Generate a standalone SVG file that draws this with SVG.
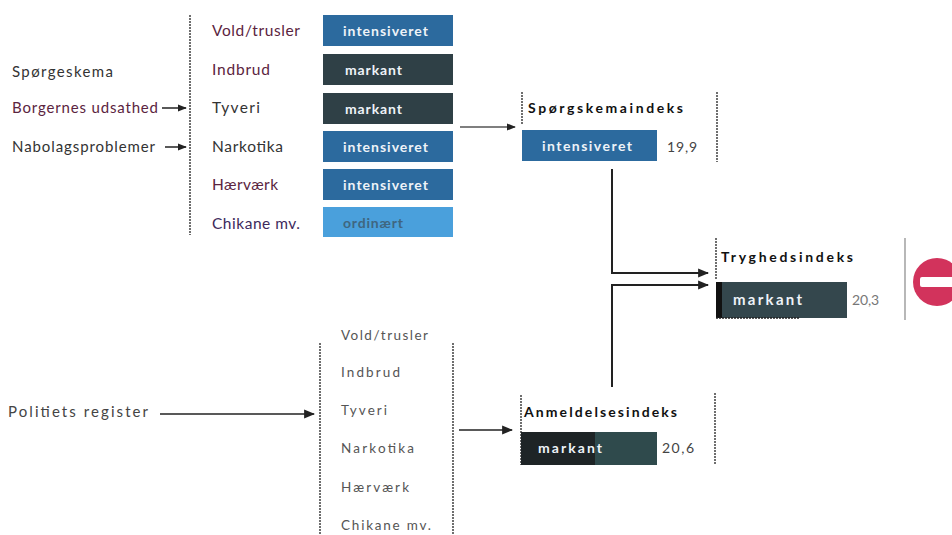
<svg xmlns="http://www.w3.org/2000/svg" width="952" height="535" viewBox="0 0 952 535">
<defs>
<marker id="ah" viewBox="0 0 10 10" refX="9" refY="5" markerWidth="9" markerHeight="9" orient="auto" markerUnits="userSpaceOnUse">
<path d="M0,1 L10,5 L0,9 z" fill="#222"/>
</marker>
<marker id="ahb" viewBox="0 0 10 10" refX="9" refY="5" markerWidth="11" markerHeight="11" orient="auto" markerUnits="userSpaceOnUse">
<path d="M0,1 L10,5 L0,9 z" fill="#222"/>
</marker>
</defs>
<style>
text{font-family:Lato,"Liberation Sans",sans-serif;}
.src{font-size:15px;fill:#333;}
.cat{font-size:15.5px;}
.m{fill:#5b2440;}
.d{fill:#333;}
.p{fill:#3d2a5c;}
.lc{font-size:13.5px;fill:#555;}
.bt{font-size:14px;fill:#eef3f8;font-weight:bold;}
.ti{font-size:14px;font-weight:bold;fill:#111;}
.num{font-size:14px;fill:#444;}
.int{fill:#2c6a9e;}
.mar{fill:#2f4046;}
.ord{fill:#4aa0dc;}
.dash{stroke:#222;stroke-width:1.3;stroke-dasharray:2,1;fill:none;}
.ln{stroke:#222;stroke-width:1.5;fill:none;}
.lnb{stroke:#222;stroke-width:2;fill:none;}
</style>

<g id="inputs-top">
<text class="src" x="12" y="77" textLength="101" lengthAdjust="spacing">Spørgeskema</text>
<text class="src m" x="12" y="113" textLength="146" lengthAdjust="spacing">Borgernes udsathed</text>
<text class="src" x="12" y="152" textLength="143" lengthAdjust="spacing">Nabolagsproblemer</text>
</g>

<g id="survey-categories">
<line class="dash" x1="190" y1="15" x2="190" y2="235"/>
<text class="cat m" x="212" y="36" textLength="88" lengthAdjust="spacing">Vold/trusler</text>
<text class="cat m" x="212" y="75" textLength="58" lengthAdjust="spacing">Indbrud</text>
<text class="cat d" x="212" y="113" textLength="48" lengthAdjust="spacing">Tyveri</text>
<text class="cat d" x="212" y="152" textLength="71" lengthAdjust="spacing">Narkotika</text>
<text class="cat m" x="212" y="190" textLength="66" lengthAdjust="spacing">Hærværk</text>
<text class="cat p" x="212" y="229" textLength="88" lengthAdjust="spacing">Chikane mv.</text>
<rect class="int" x="323" y="15" width="130" height="31"/>
<text class="bt" x="343" y="36" textLength="85" lengthAdjust="spacing">intensiveret</text>
<rect class="mar" x="323" y="54" width="130" height="31"/>
<text class="bt" x="345" y="75" textLength="57" lengthAdjust="spacing">markant</text>
<rect class="mar" x="323" y="93" width="130" height="31"/>
<text class="bt" x="345" y="114" textLength="57" lengthAdjust="spacing">markant</text>
<rect class="int" x="323" y="131" width="130" height="31"/>
<text class="bt" x="343" y="152" textLength="85" lengthAdjust="spacing">intensiveret</text>
<rect class="int" x="323" y="169" width="130" height="31"/>
<text class="bt" x="343" y="190" textLength="85" lengthAdjust="spacing">intensiveret</text>
<rect class="ord" x="323" y="207" width="130" height="30"/>
<text class="bt" x="343" y="228" textLength="60" lengthAdjust="spacing" style="fill:#3f6680">ordinært</text>
</g>

<g id="spoergeskemaindeks">
<line class="dash" x1="522" y1="92" x2="522" y2="125"/>
<line class="dash" x1="717" y1="92" x2="717" y2="162"/>
<text class="ti" x="528" y="113" textLength="155" lengthAdjust="spacing">Spørgskemaindeks</text>
<rect class="int" x="522" y="130" width="135" height="31"/>
<text class="bt" x="542" y="151" textLength="90" lengthAdjust="spacing">intensiveret</text>
<text class="num" x="667" y="152" textLength="30" lengthAdjust="spacing">19,9</text>
</g>

<g id="tryghedsindeks">
<line class="dash" x1="716" y1="238" x2="716" y2="280"/>
<line x1="905" y1="238" x2="905" y2="320" stroke="#888" stroke-width="1.2"/>
<text class="ti" x="721" y="262" textLength="132" lengthAdjust="spacing">Tryghedsindeks</text>
<rect x="716" y="282" width="131" height="36" fill="#34474d"/>
<rect x="716" y="282" width="6" height="36" fill="#111"/>
<line class="dash" x1="716" y1="318" x2="800" y2="318"/>
<text class="bt" x="733" y="305" textLength="69" lengthAdjust="spacing" style="font-size:15px">markant</text>
<text class="num" x="852" y="305" textLength="27" lengthAdjust="spacing" style="fill:#777">20,3</text>
<circle cx="937" cy="282" r="24" fill="#d2335c"/>
<rect x="920" y="277" width="34" height="10" rx="2" fill="#fff"/>
</g>

<g id="politiets-register">
<text class="src" x="8" y="417" textLength="140" lengthAdjust="spacing" style="fill:#444">Politiets register</text>
</g>

<g id="register-categories">
<line class="dash" x1="320" y1="343" x2="320" y2="535"/>
<line class="dash" x1="453" y1="343" x2="453" y2="535"/>
<text class="lc" x="341" y="340" textLength="87" lengthAdjust="spacing">Vold/trusler</text>
<text class="lc" x="341" y="377" textLength="59" lengthAdjust="spacing">Indbrud</text>
<text class="lc" x="341" y="415" textLength="46" lengthAdjust="spacing">Tyveri</text>
<text class="lc" x="341" y="453" textLength="73" lengthAdjust="spacing">Narkotika</text>
<text class="lc" x="341" y="492" textLength="68" lengthAdjust="spacing">Hærværk</text>
<text class="lc" x="341" y="530" textLength="90" lengthAdjust="spacing">Chikane mv.</text>
</g>

<g id="anmeldelsesindeks">
<line class="dash" x1="521" y1="395" x2="521" y2="465"/>
<line class="dash" x1="715" y1="393" x2="715" y2="465"/>
<text class="ti" x="524" y="417" textLength="153" lengthAdjust="spacing">Anmeldelsesindeks</text>
<rect x="521" y="432" width="136" height="33" fill="#2f4a4c"/>
<rect x="521" y="432" width="74" height="33" fill="#1e2426"/>
<text class="bt" x="538" y="453" textLength="64" lengthAdjust="spacing">markant</text>
<text class="num" x="662" y="453" textLength="32" lengthAdjust="spacing">20,6</text>
</g>

<g id="connectors">
<line class="ln" x1="162" y1="108" x2="186" y2="108" marker-end="url(#ah)"/>
<line class="ln" x1="165" y1="147" x2="186" y2="147" marker-end="url(#ah)"/>
<line class="ln" x1="460" y1="127" x2="515" y2="127" marker-end="url(#ah)" style="stroke:#555"/>
<polyline class="lnb" points="612,169 612,273 708,273" marker-end="url(#ahb)"/>
<polyline class="lnb" points="612,387 612,285 708,285" marker-end="url(#ahb)"/>
<line class="ln" x1="160" y1="414" x2="314" y2="414" marker-end="url(#ahb)"/>
<line class="ln" x1="459" y1="430" x2="512" y2="430" marker-end="url(#ahb)"/>
</g>
</svg>
